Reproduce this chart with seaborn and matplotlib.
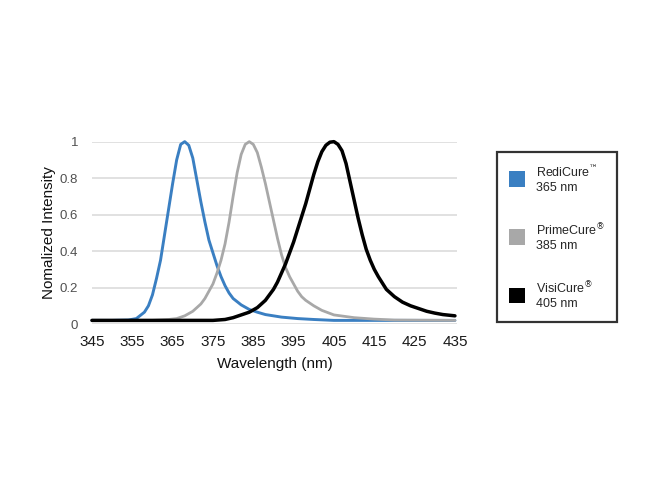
import pandas as pd
import matplotlib.pyplot as plt
from matplotlib.patches import Patch
import seaborn as sns

# values
wl_redi = [345, 350, 354, 356, 358, 359, 360, 361, 362, 363, 364, 365, 366, 367, 368, 369,
           370, 371, 372, 373, 374, 375, 376, 377, 378, 379, 380, 382, 384, 386, 388, 392,
           396, 400, 405, 435]
int_redi = [0.02, 0.02, 0.022, 0.03, 0.065, 0.1, 0.16, 0.25, 0.35, 0.49, 0.63, 0.77, 0.90, 0.985,
            1.0, 0.98, 0.91, 0.79, 0.67, 0.56, 0.46, 0.39, 0.32, 0.26, 0.21, 0.17, 0.14, 0.105,
            0.08, 0.065, 0.052, 0.038, 0.03, 0.025, 0.02, 0.02]

wl_prime = [345, 360, 364, 366, 368, 370, 372, 373, 374, 375, 376, 377, 378, 379, 380, 381,
            382, 383, 384, 385, 386, 387, 388, 389, 390, 391, 392, 393, 394, 395, 396, 397,
            398, 400, 402, 405, 410, 415, 420, 435]
int_prime = [0.02, 0.02, 0.025, 0.03, 0.045, 0.07, 0.11, 0.14, 0.18, 0.22, 0.28, 0.35, 0.44,
             0.56, 0.70, 0.83, 0.93, 0.985, 1.0, 0.985, 0.94, 0.86, 0.77, 0.67, 0.57, 0.47, 0.38,
             0.31, 0.26, 0.22, 0.18, 0.15, 0.13, 0.10, 0.075, 0.05, 0.035, 0.027, 0.022, 0.02]

wl_visi = [345, 375, 378, 380, 382, 384, 386, 388, 390, 391, 392, 393, 394, 395, 396, 397,
           398, 399, 400, 401, 402, 403, 404, 405, 406, 407, 408, 409, 410, 411, 412, 413,
           414, 415, 416, 418, 420, 422, 424, 426, 428, 430, 432, 435]
int_visi = [0.02, 0.02, 0.025, 0.035, 0.05, 0.065, 0.09, 0.13, 0.19, 0.23, 0.28, 0.33, 0.39,
            0.45, 0.52, 0.59, 0.66, 0.74, 0.82, 0.89, 0.945, 0.98, 0.997, 1.0, 0.985, 0.95, 0.88,
            0.78, 0.68, 0.58, 0.49, 0.41, 0.35, 0.30, 0.26, 0.19, 0.15, 0.12, 0.10, 0.085,
            0.07, 0.06, 0.052, 0.045]

series = ['RediCure', 'PrimeCure', 'VisiCure']
labels = ['RediCure$^{™}$\n365 nm', 'PrimeCure$^{®}$\n385 nm', 'VisiCure$^{®}$\n405 nm']
colors = ['#3a7fc2', '#a8a8a8', '#000000']
x_ticks = [345, 355, 365, 375, 385, 395, 405, 415, 425, 435]
y_ticks = [0, 0.2, 0.4, 0.6, 0.8, 1]

df = pd.concat([
    pd.DataFrame({'Wavelength': wl_redi, 'Intensity': int_redi, 'Source': 'RediCure'}),
    pd.DataFrame({'Wavelength': wl_prime, 'Intensity': int_prime, 'Source': 'PrimeCure'}),
    pd.DataFrame({'Wavelength': wl_visi, 'Intensity': int_visi, 'Source': 'VisiCure'}),
])

sns.set_style('white')
plt.rcParams['font.family'] = ['Liberation Sans', 'DejaVu Sans']

fig = plt.figure(figsize=(6.5, 4.97), dpi=100)
ax = fig.add_axes([0.1415, 0.348, 0.5615, 0.367])

for y in y_ticks:
    ax.axhline(y, color='#d9d9d9', lw=1.1, zorder=0)

sns.lineplot(data=df, x='Wavelength', y='Intensity', hue='Source', hue_order=series,
             palette=dict(zip(series, colors)), linewidth=2.1, legend=False, ax=ax)
for line, lw in zip(ax.lines[-3:], [2.1, 2.0, 2.5]):
    line.set_linewidth(lw)
    line.set_clip_on(False)
    line.set_solid_joinstyle('round')

ax.set_xlim(345, 435.5)
ax.set_ylim(0, 1)
ax.set_xticks(x_ticks)
ax.set_yticks(y_ticks)
ax.set_yticklabels(['0', '0.2', '0.4', '0.6', '0.8', '1'])
ax.tick_params(axis='x', labelsize=11, colors='#1a1a1a', pad=8, length=0)
ax.tick_params(axis='y', labelsize=9.5, colors='#505050', pad=10, length=0)
for s in ax.spines.values():
    s.set_visible(False)

ax.set_xlabel('Wavelength (nm)', fontsize=11, color='#111111', labelpad=6)
ax.set_ylabel('Nomalized Intensity', fontsize=11, color='#111111', labelpad=3)

handles = [Patch(facecolor=c, edgecolor='none') for c in colors]
leg = fig.legend(handles, labels, loc='upper left', bbox_to_anchor=(0.765, 0.694),
                 frameon=True, fancybox=False, edgecolor='black', fontsize=9,
                 handlelength=1.3, handleheight=1.55, handletextpad=0.85,
                 labelspacing=2.25, borderpad=0.95, borderaxespad=0)
leg.get_frame().set_linewidth(1.6)

fig.savefig('out.png', dpi=100)
